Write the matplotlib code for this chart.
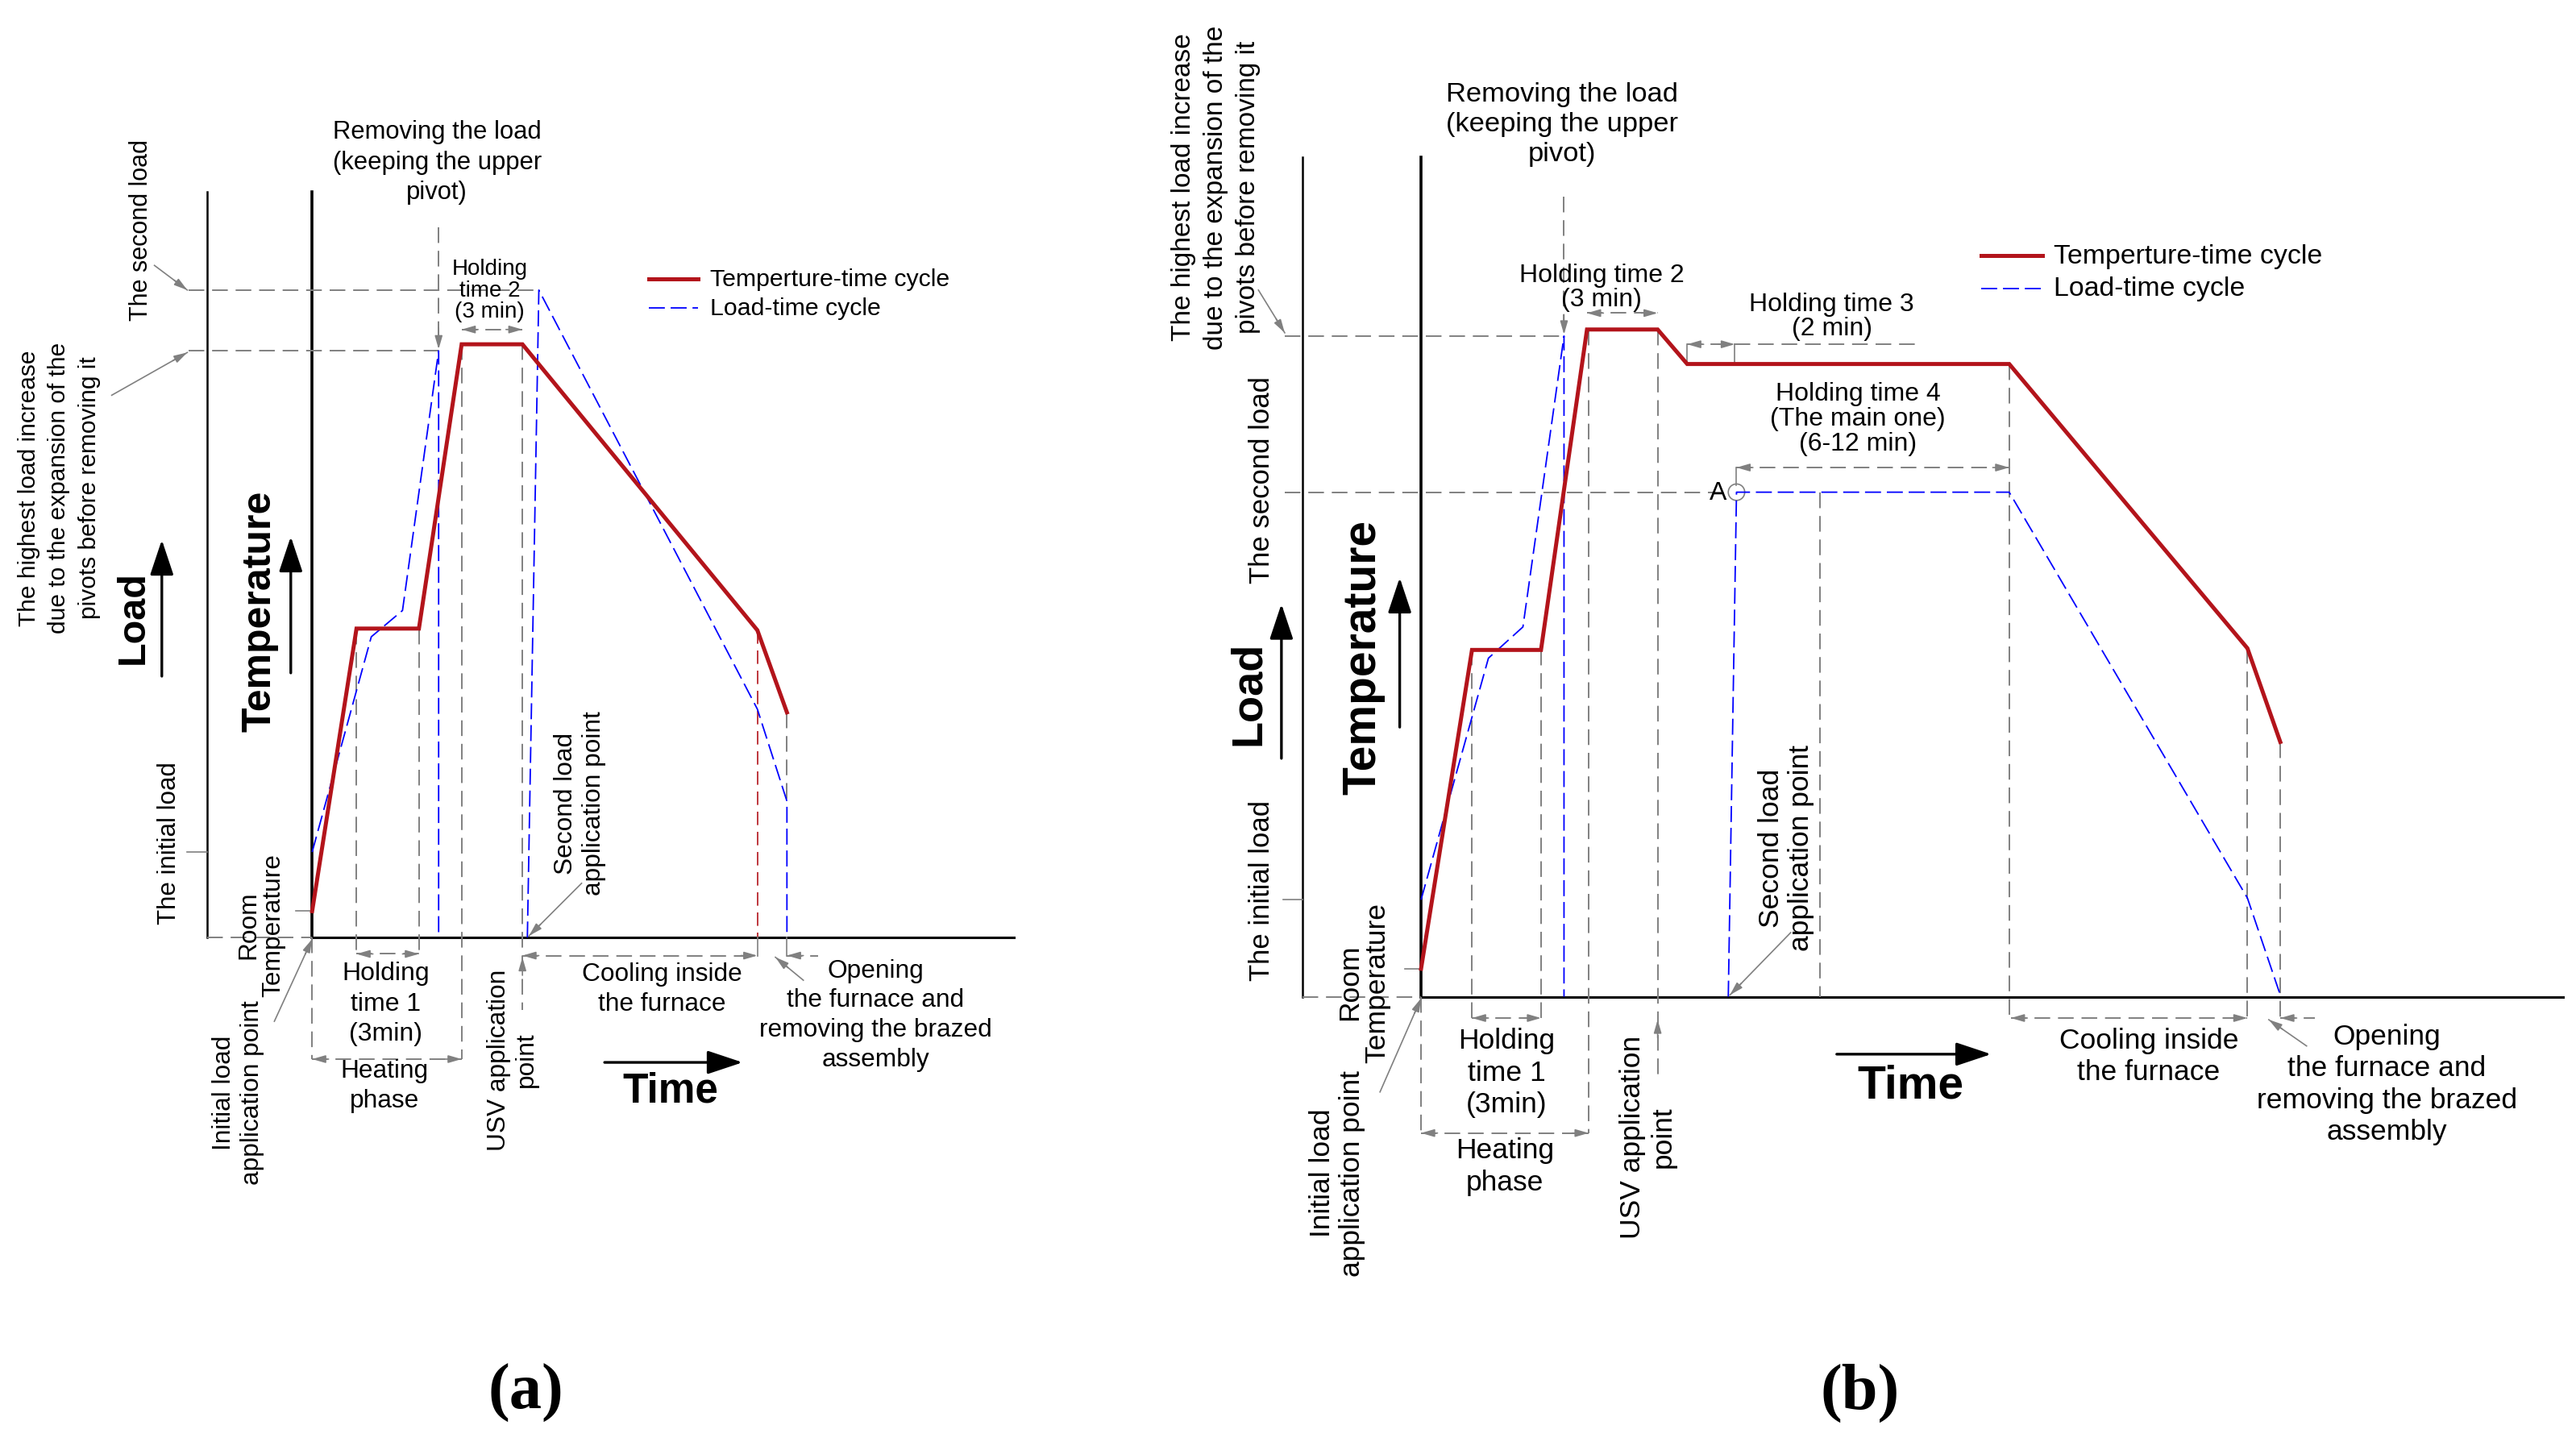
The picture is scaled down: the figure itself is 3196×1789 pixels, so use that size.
import matplotlib.pyplot as plt
from matplotlib.patches import Circle

RED = '#B3141B'
BLUE = '#0000FF'
GRAY = '#808080'

# The drawing is a schematic: time runs to the right, load / temperature upward.
# All values below in its own (pixel-like) units.

# ---- panel (a) ----
a_temp_t = [190, 217, 255, 281, 318, 461, 479]
a_temp_v = [555, 383, 383, 210, 210, 384, 434]
a_load1_t = [190, 226, 245, 267, 267]
a_load1_v = [519, 388, 372, 214, 571]
a_load2_t = [321, 328, 461, 479, 479]
a_load2_v = [571, 177, 432, 488, 571]
a_second, a_highest, a_initial, a_room = 177, 214, 519, 555

# ---- panel (b) ----
b_temp_t = [865, 896, 938, 966, 1009, 1027, 1223, 1368, 1388]
b_temp_v = [590, 396, 396, 201, 201, 222, 222, 395, 452]
b_load1_t = [865, 906, 927, 952, 952]
b_load1_v = [548, 401, 382, 205, 607]
b_load2_t = [1052, 1057, 1223, 1368, 1388]
b_load2_v = [607, 300, 300, 547, 606]
b_highest, b_second, b_initial, b_room = 205, 300, 548, 590

plt.rcParams['font.family'] = ['Liberation Sans', 'DejaVu Sans']

fig = plt.figure(figsize=(31.96, 17.90), dpi=100)
ax = fig.add_axes([0, 0, 1, 1])
ax.set_xlim(0, 1568)
ax.set_ylim(878, 0)
ax.axis('off')


def dashed(xs, ys, color=GRAY, lw=1.4):
    ax.plot(xs, ys, color=color, lw=lw, ls=(0, (10, 5)), solid_capstyle='butt')


def solid(xs, ys, color=GRAY, lw=1.2):
    ax.plot(xs, ys, color=color, lw=lw)


def head(x0, y0, x1, y1, color=GRAY, scale=22):
    ax.annotate('', xy=(x1, y1), xytext=(x0, y0),
                arrowprops=dict(arrowstyle='-|>,head_length=0.45,head_width=0.13',
                                color=color, lw=1.2, mutation_scale=scale,
                                shrinkA=0, shrinkB=0))


def dim(x0, x1, y):
    dashed([x0, x1], [y, y])
    head(x0 + 10, y, x0, y)
    head(x1 - 10, y, x1, y)


def leader(x0, y0, x1, y1):
    solid([x0, x1], [y0, y1], lw=1.2)
    dx, dy = x1 - x0, y1 - y0
    d = (dx ** 2 + dy ** 2) ** 0.5
    head(x1 - dx / d * 10, y1 - dy / d * 10, x1, y1)


def big_arrow(x0, y0, x1, y1):
    ax.annotate('', xy=(x1, y1), xytext=(x0, y0),
                arrowprops=dict(arrowstyle='-|>,head_length=0.9,head_width=0.3',
                                color='black', lw=2.4, mutation_scale=30,
                                shrinkA=0, shrinkB=0))


def label(x, y, s, size, rot=0, ls=1.33, **kw):
    ax.text(x, y, s, fontsize=size, rotation=rot, ha='center', va='center',
            multialignment='center', linespacing=ls, **kw)


def legend(x, y1, y2, size, length):
    ax.plot([x, x + length], [y1, y1], color=RED, lw=3.6)
    ax.plot([x, x + length], [y2, y2], color=BLUE, lw=1.3, ls=(0, (11, 4)))
    ax.text(x + length + 7, y1, 'Temperture-time cycle', fontsize=size, va='center')
    ax.text(x + length + 7, y2, 'Load-time cycle', fontsize=size, va='center')


# =================== panel (a) ===================
s = 22.8
# axes
ax.plot([126, 126], [117, 571], color='black', lw=1.8)
ax.plot([190, 190], [117, 571], color='black', lw=2.6)
ax.plot([190, 617], [571, 571], color='black', lw=2.2)
dashed([126, 190], [571, 571])
# level lines and ticks
dashed([115, a_load2_t[1]], [a_second, a_second])
dashed([115, a_load1_t[3]], [a_highest, a_highest])
solid([114, 126], [a_initial, a_initial])
solid([180, 190], [a_room, a_room])

# guide lines
dashed([217, 217], [383, 582])
dashed([255, 255], [383, 582])
dashed([190, 190], [571, 645])
dashed([281, 281], [210, 645])
dashed([267, 267], [139, 210])
head(267, 200, 267, 213)
dashed([318, 318], [210, 615])
head(318, 594, 318, 583)
dashed([461, 461], [384, 571], color=RED, lw=1.2)
solid([461, 461], [571, 582])
dashed([479, 479], [434, 488])
solid([479, 479], [571, 582])

dim(217, 255, 581)
dim(190, 281, 645)
dim(281, 318, 201)
dim(318, 461, 582)
dashed([479, 498], [582, 582])
head(489, 582, 479, 582)

# curves
ax.plot(a_load1_t, a_load1_v, color=BLUE, lw=1.3, ls=(0, (11, 4)))
ax.plot(a_load2_t, a_load2_v, color=BLUE, lw=1.3, ls=(0, (11, 4)))
ax.plot(a_temp_t, a_temp_v, color=RED, lw=3.6, solid_joinstyle='miter')

# leaders
leader(94, 162, 114, 177)
leader(68, 241, 114, 215)
leader(167, 622, 190, 572)
leader(354, 538, 322, 570)
leader(489, 597, 472, 583)

# texts
label(36, 297, 'The highest load increase\ndue to the expansion of the\npivots before removing it',
      21.5, rot=90, ls=1.42)
label(86, 140, 'The second load', 22, rot=90)
label(81, 376, 'Load', 35, rot=90, weight='bold')
big_arrow(98.5, 412, 98.5, 329)
label(158, 372, 'Temperature', 36, rot=90, weight='bold')
big_arrow(177, 410, 177, 327)
label(103, 513, 'The initial load', 22.5, rot=90)
label(159, 563, 'Room\nTemperature', s, rot=90, ls=1.05)
label(145, 665, 'Initial load\napplication point', s, rot=90, ls=1.22)
label(312, 645, 'USV application\npoint', s, rot=90, ls=1.2)
label(353, 489, 'Second load\napplication point', s, rot=90, ls=1.2)
label(266, 99, 'Removing the load\n(keeping the upper\npivot)', 22.3)
label(298, 177, 'Holding\ntime 2\n(3 min)', 20, ls=1.02)
legend(395, 170, 188, 21.8, 30)
label(235, 611, 'Holding\ntime 1\n(3min)', 23)
label(234, 661, 'Heating\nphase', s)
label(403, 602, 'Cooling inside\nthe furnace', s)
label(533, 618, 'Opening\nthe furnace and\nremoving the brazed\nassembly', s, ls=1.3)
label(408, 664, 'Time', 37, weight='bold')
big_arrow(368, 647, 452, 647)
ax.text(320, 848, '(a)', fontsize=58, ha='center', va='center',
        family=['Liberation Serif', 'DejaVu Serif'], weight='bold')

# =================== panel (b) ===================
s = 25.5
ax.plot([793, 793], [96, 607], color='black', lw=1.8)
ax.plot([865, 865], [96, 607], color='black', lw=2.6)
ax.plot([865, 1560], [607, 607], color='black', lw=2.2)
dashed([793, 865], [607, 607])
dashed([782, b_load1_t[3]], [b_highest, b_highest])
dashed([782, 1050], [b_second, b_second])
solid([781, 793], [b_initial, b_initial])
solid([855, 865], [b_room, b_room])

dashed([896, 896], [396, 620])
dashed([938, 938], [396, 620])
dashed([865, 865], [607, 690])
dashed([967, 967], [201, 690])
dashed([952, 952], [120, 203])
head(952, 192, 952, 204)
dashed([1009, 1009], [201, 658])
head(1009, 632, 1009, 621)
dashed([1108, 1108], [300, 607])
dashed([1223, 1223], [222, 620])
dashed([1368, 1368], [395, 620])
dashed([1388, 1388], [452, 620])
solid([1027, 1027], [210, 222])
solid([1056, 1056], [210, 222])
solid([1057, 1057], [285, 296])

dim(896, 938, 620)
dim(865, 967, 690)
dim(966, 1009, 191)
dim(1027, 1056, 210)
dashed([1056, 1166], [210, 210])
dim(1057, 1223, 285)
dim(1224, 1368, 620)
dashed([1388, 1409], [620, 620])
head(1398, 620, 1388, 620)

ax.plot(b_load1_t, b_load1_v, color=BLUE, lw=1.3, ls=(0, (11, 4)))
ax.plot(b_load2_t, b_load2_v, color=BLUE, lw=1.3, ls=(0, (11, 4)))
ax.plot(b_temp_t, b_temp_v, color=RED, lw=3.6, solid_joinstyle='miter')
ax.add_patch(Circle((1057, 300), 5, fill=False, ec=GRAY, lw=1.2))

leader(766, 177, 782, 203)
leader(840, 665, 865, 608)
leader(1090, 568, 1053, 606)
leader(1404, 637, 1381, 621)

label(740, 114, 'The highest load increase\ndue to the expansion of the\npivots before removing it',
      24, rot=90, ls=1.38)
label(768, 292, 'The second load', 25, rot=90)
label(760, 422, 'Load', 39, rot=90, weight='bold')
big_arrow(780, 462, 780, 368)
label(830, 400, 'Temperature', 41, rot=90, weight='bold')
big_arrow(852, 443, 852, 352)
label(768, 542, 'The initial load', 25, rot=90)
label(830, 598, 'Room\nTemperature', s, rot=90, ls=1.05)
label(814, 714, 'Initial load\napplication point', s, rot=90, ls=1.15)
label(1003, 692, 'USV application\npoint', s, rot=90, ls=1.15)
label(1087, 516, 'Second load\napplication point', s, rot=90, ls=1.15)
label(951, 76, 'Removing the load\n(keeping the upper\npivot)', 24.8, ls=1.25)
label(975, 175, 'Holding time 2\n(3 min)', 23, ls=1.0)
label(1115, 193, 'Holding time 3\n(2 min)', 23, ls=1.0)
label(1131, 255, 'Holding time 4\n(The main one)\n(6-12 min)', 23, ls=1.03)
ax.text(1051, 300, 'A', fontsize=23, ha='right', va='center')
legend(1206, 156, 176, 24.4, 37)
label(917, 653, 'Holding\ntime 1\n(3min)', s, ls=1.25)
label(916, 710, 'Heating\nphase', s, ls=1.25)
label(1308, 643, 'Cooling inside\nthe furnace', s, ls=1.25)
label(1453, 660, 'Opening\nthe furnace and\nremoving the brazed\nassembly', s, ls=1.25)
label(1163, 661, 'Time', 41, weight='bold')
big_arrow(1118, 642, 1212, 642)
ax.text(1132, 848, '(b)', fontsize=58, ha='center', va='center',
        family=['Liberation Serif', 'DejaVu Serif'], weight='bold')

fig.savefig('out.png', dpi=100, facecolor='white')
